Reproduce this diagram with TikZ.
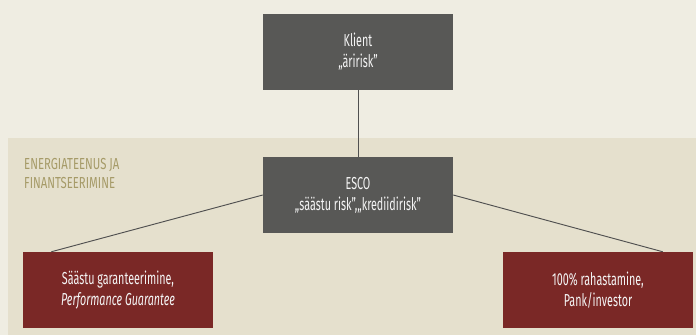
\documentclass[tikz,border=0pt]{standalone}
\usepackage{fontspec}
\setmainfont{Fira Sans}
\newfontfamily\boxfont{Fira Sans}[FakeStretch=0.62]
\newfontfamily\headfont{Fira Sans}[FakeStretch=0.71]
\usetikzlibrary{positioning,calc}
\definecolor{outerbg}{HTML}{EFEDE2}
\definecolor{panelbg}{HTML}{E5E0CD}
\definecolor{darkbox}{HTML}{585856}
\definecolor{redbox}{HTML}{7A2826}
\definecolor{olive}{HTML}{A69B68}
\definecolor{linec}{HTML}{505050}
\tikzset{
  box/.style   = { fill=#1, text=white!92!gray, minimum width=5.7cm, minimum height=2.28cm,
    align=center, inner sep=0pt, font=\boxfont\fontsize{14.8}{17.9}\selectfont },
  heading/.style = { text=olive, align=left, inner sep=0pt, font=\headfont\fontsize{13.6}{16.6}\selectfont },
  conn/.style  = { draw=linec, line width=0.8pt }
}

\begin{document}
\begin{tikzpicture}[x=0.03cm,y=-0.03cm]
    % taust
    \fill[outerbg] (0,0) rectangle (696,335);
    \fill[panelbg] (8,138) rectangle (696,335);
    \node[heading, anchor=north west] (pealkiri) at (24,158) {ENERGIATEENUS JA\\FINANTSEERIMINE};
    \node[box=darkbox] (klient) at (358,52) {Klient\\„äririsk”};
    \node[box=darkbox] (esco) at (358,195) {ESCO\\„säästu risk”,„krediidirisk”};
    \node[box=redbox] (garantii) at (118,290) {Säästu garanteerimine,\\\textit{Performance Guarantee}};
    \node[box=redbox] (rahastus) at (598,290) {100\% rahastamine,\\Pank/investor};
    \path[conn] (klient) edge (esco);
    \draw[conn] (esco.west) -- ($(garantii.north west)!0.15!(garantii.north east)$);
    \draw[conn] (esco.east) -- ($(rahastus.north west)!0.84!(rahastus.north east)$);
\end{tikzpicture}
\end{document}
